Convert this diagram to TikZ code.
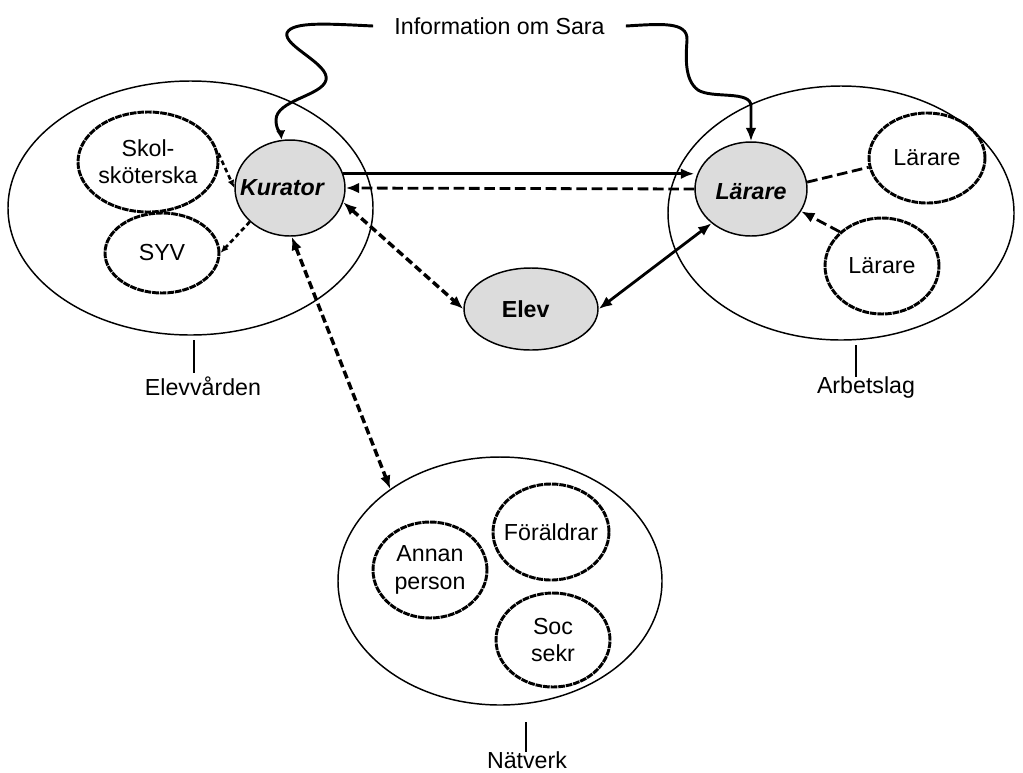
\documentclass[tikz,border=0pt]{standalone}
\usepackage{fontspec}
\setmainfont{Liberation Sans}
\usetikzlibrary{shapes.geometric,arrows.meta}
\definecolor{nodegray}{RGB}{220,220,220}
\begin{document}
\begin{tikzpicture}[x=0.75pt,y=-0.75pt,
  font=\fontsize{17.4}{20.5}\selectfont,
  >={Latex[length=10pt,width=8pt]},
  outer/.style={draw,ellipse,line width=1.1pt,inner sep=0pt},
  ring/.style={draw,ellipse,line width=2.2pt,dash pattern=on 5pt off 0.7pt,inner sep=0pt},
  keynode/.style={draw,ellipse,line width=1.1pt,fill=nodegray,inner sep=0pt},
  solidlink/.style={line width=2.1pt},
  dashlink/.style={line width=2.1pt,dash pattern=on 8pt off 3.5pt},
  densedash/.style={line width=2.6pt,dash pattern=on 6pt off 3pt},
  dotlink/.style={line width=2pt,dash pattern=on 3.5pt off 2.5pt},
  wavy/.style={line width=2.2pt},
  tick/.style={line width=1.1pt},
  smalltip/.style={-{Latex[length=6pt,width=5pt]}}
]
\path[use as bounding box] (0,0) rectangle (1023,772);

% outer groups
\node[outer,minimum width=273.75pt,minimum height=190.5pt] (ev) at (190.5,208) {};
\node[outer,minimum width=259.5pt,minimum height=190.5pt] (ab) at (841,213) {};
\node[outer,minimum width=243pt,minimum height=186pt] (nv) at (500,581) {};

% Elevvarden members
\node[ring,minimum width=105pt,minimum height=75pt,
  label={[align=center]center:Skol-\\sköterska}] (sk) at (148,162) {};
\node[ring,minimum width=85.5pt,minimum height=60pt,label={center:SYV}] (syv) at (162,253) {};
\node[keynode,minimum width=82.5pt,minimum height=72pt,
  label={[xshift=-6pt,font=\fontsize{17.4}{20.5}\selectfont\bfseries\itshape]center:Kurator}] (kur) at (290,188) {};

% Arbetslag members
\node[keynode,minimum width=84pt,minimum height=70.5pt,
  label={[yshift=-2pt,font=\fontsize{17.4}{20.5}\selectfont\bfseries\itshape]center:Lärare}] (lar) at (751,189) {};
\node[ring,minimum width=87pt,minimum height=67.5pt,label={center:Lärare}] (lt) at (927,158) {};
\node[ring,minimum width=85.5pt,minimum height=72pt,label={center:Lärare}] (lb) at (882,266) {};

% Elev
\node[keynode,minimum width=100.5pt,minimum height=61.5pt,
  label={[xshift=-4pt,font=\fontsize{17.4}{20.5}\selectfont\bfseries]center:Elev}] (elev) at (531,309) {};

% Natverk members
\node[ring,minimum width=85.5pt,minimum height=72pt,
  label={[align=center]center:Annan\\person}] (an) at (430,570) {};
\node[ring,minimum width=87pt,minimum height=72pt,label={center:Föräldrar}] (fo) at (551,532) {};
\node[ring,minimum width=85.5pt,minimum height=70.5pt,
  label={[align=center]center:Soc\\sekr}] (so) at (553,640) {};

% information
\node[inner xsep=15.75pt,inner ysep=0pt] (info) at (499.5,26) {Information om Sara};
\draw[wavy,-{Latex[length=7pt,width=7pt]}] (info.west)
  .. controls (330,24) and (292,21) .. (287,33)
  .. controls (283,46) and (330,64) .. (326,80)
  .. controls (322,96) and (276,100) .. (276,120)
  .. controls (276,130) and (281,134) .. (kur.100);
\draw[wavy,->] (info.east)
  .. controls (660,24) and (688,21) .. (687,40)
  .. controls (686,56) and (684,80) .. (698,90)
  .. controls (712,99) and (751,90) .. (751,106)
  -- (lar.north);

% links
\draw[solidlink,->] (kur.15) -- (kur.15 -| lar.west);
\draw[dashlink,->] (lar.west) -- (kur.east);
\draw[densedash,<->] (kur.-15) -- (elev.west);
\draw[solidlink,<->] (elev.east) -- (lar.221);
\draw[densedash,<->] (kur.-88) -- (nv.140);
\draw[dotlink,smalltip] (sk.7) -- (kur.west);
\draw[dotlink,smalltip] (kur.220) -- (syv.east);
\draw[dashlink] (lar.7) -- (lt.189);
\draw[dashlink,->] (lb.141) -- (lar.-24);

% group labels
\node[anchor=base] (evl) at (203,395) {Elevvården};
\coordinate (evt) at (194,340);
\draw[tick] (evt) -- ++(0,33);
\node[anchor=base] (abl) at (866,393) {Arbetslag};
\coordinate (abt) at (856,345);
\draw[tick] (abt) -- ++(0,32);
\node[anchor=base] (nvl) at (527,768) {Nätverk};
\coordinate (nvt) at (526,722);
\draw[tick] (nvt) -- ++(0,30);
\end{tikzpicture}
\end{document}
